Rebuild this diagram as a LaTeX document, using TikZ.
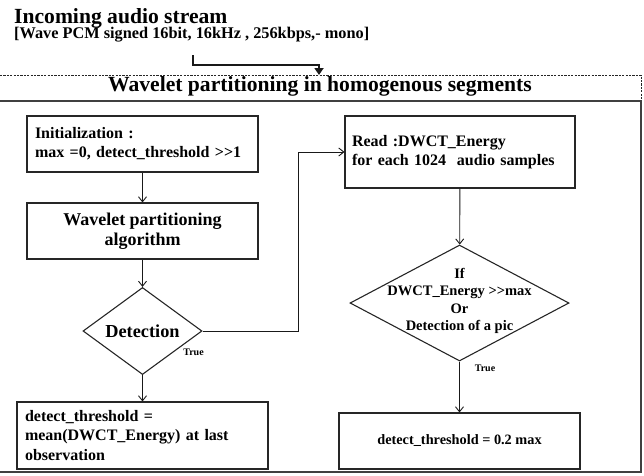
\documentclass[tikz,border=0pt]{standalone}
\usepackage{fontspec}
\setmainfont{Liberation Serif}
\usetikzlibrary{arrows.meta,shapes.geometric}
% two '>' signs kept apart so the TeX ligature mapping leaves them alone
\newcommand\dblgt{>\kern0pt>}
\newcommand\fs[2]{\fontsize{#1}{#2}\selectfont}
\begin{document}
\begin{tikzpicture}[x=1pt,y=-1pt,
  every node/.style={font=\bfseries},
  boxed/.style={draw=black!85,line width=1.1pt,rectangle,inner ysep=0pt},
  decision/.style={draw=black!85,line width=1.1pt,diamond,inner sep=0pt},
  conn/.style={draw=black!90,line width=0.9pt,-{Straight Barb[length=5pt,width=8pt]}},
  feed/.style={draw=black!90,line width=2pt,-{Triangle[length=7pt,width=9pt]}},
  truelbl/.style={font=\bfseries\fs{10}{12},inner sep=0pt}]
\useasboundingbox (0,0) rectangle (644,475);

% outer frame: dashed header band, solid body
\draw[black!85,line width=0.7pt,dash pattern=on 2.2pt off 1.2pt] (0,75) -- (641,75) -- (641,101);
\draw[black!75,line width=1.4pt] (0,101) -- (641,101) -- (641,472) -- (0,472);

% input description
\node[anchor=base west,inner sep=0pt,font=\bfseries\fs{21.6}{26}] (title) at (14,23) {Incoming audio stream};
\node[anchor=base west,inner sep=0pt,font=\bfseries\fs{16.3}{19}] (fmt) at (14,38.5) {[Wave PCM signed 16bit, 16kHz , 256kbps,- mono]};
\coordinate (fmtout) at (193,55);
\coordinate (segin) at (319,75);
\draw[feed] (fmtout) -- ++(0,10) -| (segin);

\node[anchor=base,inner sep=0pt,font=\bfseries\fs{21.6}{26}] (hdr) at (320,91) {Wavelet partitioning in homogenous segments};

% left column
\node[boxed,minimum width=231pt,minimum height=56pt,text width=215pt,inner xsep=8pt,align=left,font=\bfseries\fs{16}{19}] (init) at (142.5,144)
  {Initialization :\\max =0, detect\_threshold \dblgt1};
\node[boxed,minimum width=231pt,minimum height=56pt,align=center,font=\bfseries\fs{18}{20}] (wave) at (142.5,231)
  {Wavelet partitioning\\algorithm};
\node[decision,minimum width=119pt,minimum height=82pt,font=\bfseries\fs{18.3}{20}] (det) at (142.5,331) {Detection};
\node[truelbl] (dettrue) at (193.5,352) {True};
\node[boxed,minimum width=251pt,minimum height=67pt,text width=235pt,inner xsep=8pt,align=left,font=\bfseries\fs{16}{19.5}] (last) at (142.5,435.5)
  {detect\_threshold =\\mean(DWCT\_Energy) at last\\observation};

% right column
\node[boxed,minimum width=230pt,minimum height=72pt,text width=216pt,inner xsep=7pt,align=left,font=\bfseries\fs{16}{18.5}] (read) at (460,152)
  {Read :DWCT\_Energy\\for each 1024\ \ audio samples};
\node[decision,minimum width=219pt,minimum height=116pt] (cond) at (459.5,303) {};
\node[inner sep=0pt,align=center,font=\bfseries\fs{14.5}{17.5}] (condtxt) at (459.5,301)
  {If\\DWCT\_Energy \dblgt max\\Or\\Detection of a pic};
\node[truelbl] (condtrue) at (485,368) {True};
\node[boxed,minimum width=241pt,minimum height=56pt,font=\bfseries\fs{14.3}{17}] (thr) at (459.5,441)
  {detect\_threshold = 0.2 max};

% connectors
\draw[conn] (init) -- (wave);
\draw[conn] (wave) -- (det);
\draw[conn] (det) -- (last);
\draw[conn] (det.east) -- ++(96,0) |- (read.west);
\draw[conn] (read) -- (cond);
\draw[conn] (cond) -- (thr);
\end{tikzpicture}
\end{document}
